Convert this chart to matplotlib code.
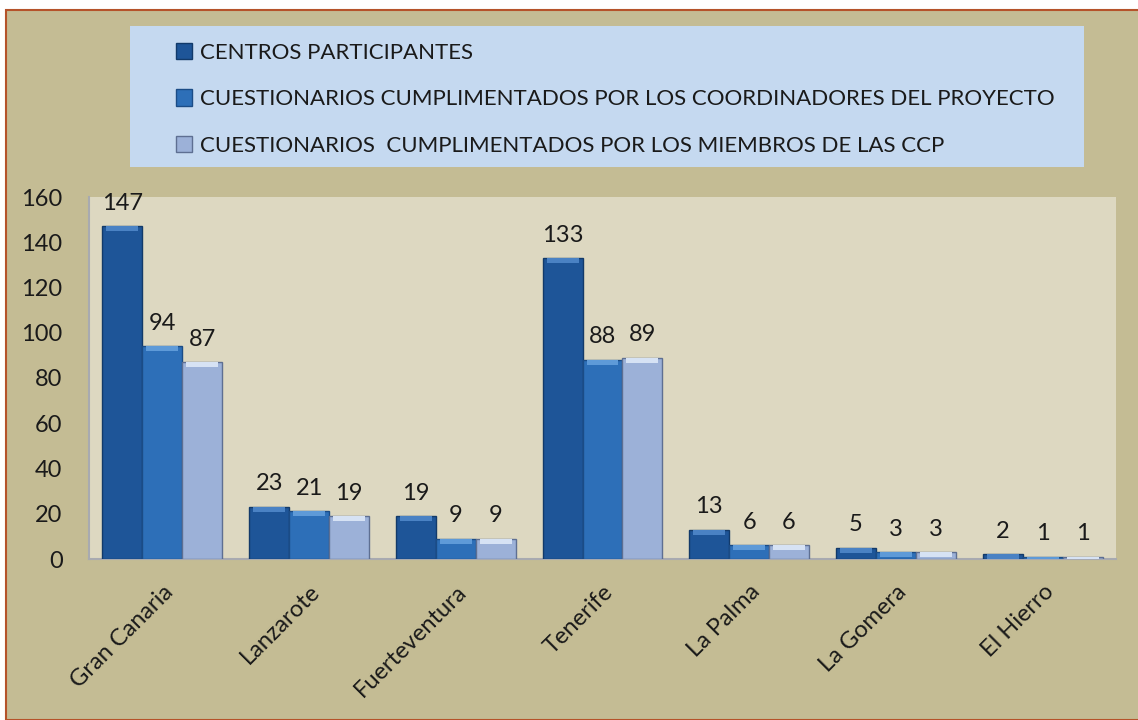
import numpy as np
import matplotlib
matplotlib.use("Agg")
import matplotlib.pyplot as plt
from matplotlib.patches import Rectangle

islands = ["Gran Canaria", "Lanzarote", "Fuerteventura", "Tenerife",
           "La Palma", "La Gomera", "El Hierro"]
centros = [147, 23, 19, 133, 13, 5, 2]
coordinadores = [94, 21, 9, 88, 6, 3, 1]
miembros_ccp = [87, 19, 9, 89, 6, 3, 1]

series_labels = [
    "CENTROS PARTICIPANTES",
    "CUESTIONARIOS CUMPLIMENTADOS POR LOS COORDINADORES DEL PROYECTO",
    "CUESTIONARIOS  CUMPLIMENTADOS POR LOS MIEMBROS DE LAS CCP",
]
yticks = [0, 20, 40, 60, 80, 100, 120, 140, 160]

plt.rcParams["font.family"] = ["Lato", "DejaVu Sans"]

fig = plt.figure(figsize=(11.38, 7.2), dpi=100)
fig.patch.set_facecolor("white")

# outer frame
fig.patches.append(Rectangle((6 / 1138, 0.0), 1.0, 1 - 10 / 720,
                             transform=fig.transFigure, facecolor="#C4BC94",
                             edgecolor="#B5532A", linewidth=1.5, zorder=-3))
# legend background
fig.patches.append(Rectangle((130 / 1138, 1 - 167 / 720), (1084 - 130) / 1138,
                             (167 - 26) / 720, transform=fig.transFigure,
                             facecolor="#C5D9F0", edgecolor="none", zorder=-2))

ax = fig.add_axes([89 / 1138, 1 - 559 / 720, (1116 - 89) / 1138, (559 - 197) / 720])
ax.set_facecolor("#DDD8C1")

x = np.arange(len(islands))
w = 0.272
colors = ["#1E5598", "#2D6FB8", "#9CB1D8"]
edges = ["#123A6A", "#1B4C86", "#5E6F92"]
tops = ["#4A82C4", "#5E9AD8", "#D6E2F4"]
handles = []
for k, vals in enumerate([centros, coordinadores, miembros_ccp]):
    pos = x + (k - 1) * w
    b = ax.bar(pos, vals, width=w, color=colors[k], edgecolor=edges[k],
               linewidth=1.0, zorder=3, label=series_labels[k])
    handles.append(b)
    # small bevel highlight at top of each bar
    cap = [min(v, 2.2) for v in vals]
    ax.bar(pos, cap, bottom=[v - c for v, c in zip(vals, cap)], width=w * 0.8,
           color=tops[k], linewidth=0, zorder=4)
    for px, v in zip(pos, vals):
        ax.annotate(str(v), (px, v), xytext=(0, 9), textcoords="offset points",
                    ha="center", va="bottom", fontsize=17, color="#1A1A1A")

ax.set_xlim(-0.5, len(islands) - 0.5)
ax.set_ylim(0, 160)
ax.set_yticks(yticks)
ax.set_xticks(x)
ax.set_xticklabels(islands, rotation=45, ha="right", rotation_mode="anchor",
                   fontsize=17, color="#1A1A1A")
ax.tick_params(axis="y", labelsize=17, colors="#1A1A1A", length=0, pad=19)
ax.tick_params(axis="x", length=0, pad=16)
for s in ["top", "right"]:
    ax.spines[s].set_visible(False)
for s in ["left", "bottom"]:
    ax.spines[s].set_color("#A8AAB0")
    ax.spines[s].set_linewidth(1.5)

fig.legend(handles=handles, labels=series_labels, loc="upper left",
           bbox_to_anchor=(160 / 1138, 1 - 27 / 720), frameon=False,
           fontsize=16, labelspacing=1.2, handlelength=0.75, handleheight=0.75,
           handletextpad=0.35, borderpad=0.2, labelcolor="#1A1A1A")

fig.savefig("out.png", dpi=100, facecolor=fig.get_facecolor())
